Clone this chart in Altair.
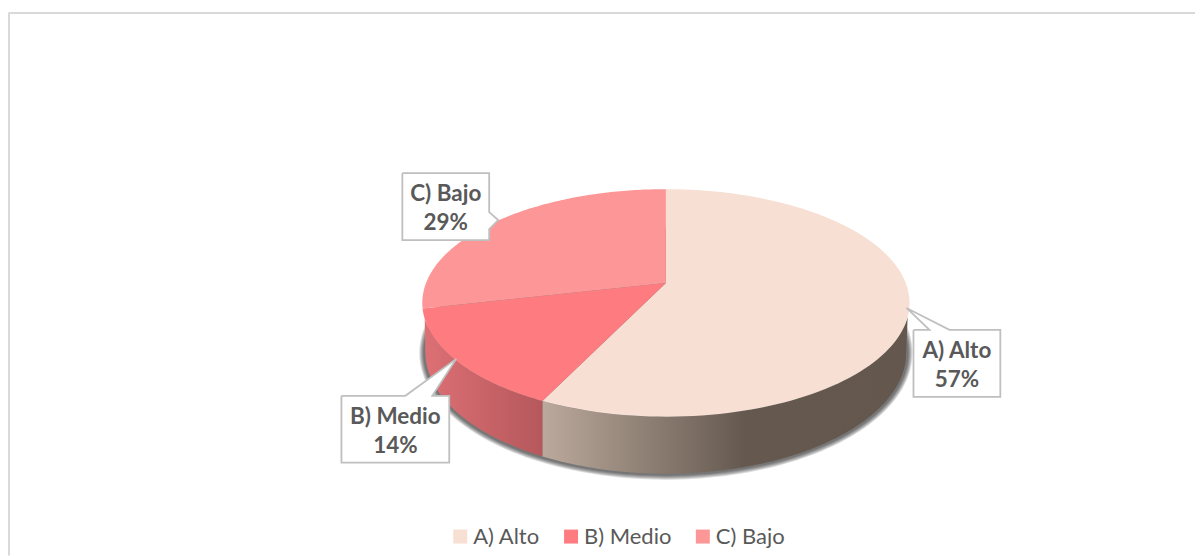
import numpy as np
import pandas as pd
import altair as alt

categories = ["A) Alto", "B) Medio", "C) Bajo"]
shares = [57.14, 14.29, 28.57]
labels = ["57%", "14%", "29%"]
top_colors = ["#f7dfd3", "#fe7b80", "#fd9696"]

W, H = 1188, 548
X = alt.X("x:Q", axis=None, scale=alt.Scale(domain=[8, 1196], nice=False, zero=False))
Y = alt.Y("y:Q", axis=None, scale=alt.Scale(domain=[556, 8], nice=False, zero=False))

# pie geometry (picture space of the tilted disc)
CX, CY, RX, RY = 666.0, 303.0, 244.0, 114.0
BCY, BRX, BRY = 352.0, 241.0, 122.0
K, C = 0.175, 20.0
A = RX * np.sqrt(1 - K * K)


def rim(phi):
    d = 1 + K * np.cos(phi)
    return CX + A * np.sin(phi) / d, CY - (113.95 * np.cos(phi) + C) / d


# top wedges
rows = []
start = 0.0
for cat, s in zip(categories, shares):
    end = start + s
    phis = np.radians(np.linspace(start, end, 120) * 3.6)
    xs, ys = rim(phis)
    pts = [(CX, CY - C)] + list(zip(xs, ys)) + [(CX, CY - C)]
    for i, (px, py) in enumerate(pts):
        rows.append({"cat": cat, "i": i, "x": float(px), "y": float(py)})
    start = end
wedges = pd.DataFrame(rows)

top_layer = alt.Chart(wedges).mark_line(strokeWidth=0).encode(
    x=X, y=Y, order=alt.Order("i:Q"), detail="cat:N",
    fill=alt.Fill("cat:N", scale=alt.Scale(domain=categories, range=top_colors),
                  legend=alt.Legend(orient="none", legendX=441, legendY=518, direction="horizontal",
                                    columns=3, columnPadding=20, title=None, symbolType="square",
                                    symbolSize=196, symbolStrokeWidth=0, labelFont="Lato",
                                    labelFontSize=22, labelColor="#595959", labelOffset=2)),
)


def wall_frame(x0, x1):
    xs = np.linspace(x0, x1, 200)
    top = CY + RY * np.sqrt(np.clip(1 - ((xs - CX) / RX) ** 2, 0, 1))
    u = (xs - CX) / BRX
    bot = np.where(np.abs(u) <= 1, BCY + BRY * np.sqrt(np.clip(1 - u ** 2, 0, 1)), top)
    return pd.DataFrame({"x": xs, "y": top, "y2": np.maximum(top, bot)})


bx, by = rim(np.radians(shares[0] * 3.6))
wall_a = alt.Chart(wall_frame(float(bx), CX + RX)).mark_area(
    color=alt.Gradient(gradient="linear", x1=0, x2=1, y1=0, y2=0,
                       stops=[alt.GradientStop(offset=0, color="#bba99c"),
                              alt.GradientStop(offset=0.55, color="#65594f"),
                              alt.GradientStop(offset=1, color="#63574e")])
).encode(x=X, y=Y, y2="y2:Q")
wall_b = alt.Chart(wall_frame(CX - RX, float(bx))).mark_area(
    color=alt.Gradient(gradient="linear", x1=0, x2=1, y1=0, y2=0,
                       stops=[alt.GradientStop(offset=0, color="#dd7075"),
                              alt.GradientStop(offset=1, color="#b5585c")])
).encode(x=X, y=Y, y2="y2:Q")

# soft shadow below the disc
shadow_rows = []
for k, grow in enumerate([1, 2, 3, 4, 5]):
    t = np.radians(np.linspace(0, 360, 200))
    for i, tt in enumerate(t):
        shadow_rows.append({"k": k, "i": i,
                            "x": CX + (BRX + grow + 1) * np.cos(tt),
                            "y": BCY + 1 + (BRY + grow) * np.sin(tt)})
shadow = alt.Chart(pd.DataFrame(shadow_rows)).mark_line(
    strokeWidth=0, fill="#000000", fillOpacity=0.14
).encode(x=X, y=Y, order=alt.Order("i:Q"), detail="k:N")

# callouts
callouts = {
    "A": [(914, 330), (930, 330), (907, 308), (950, 330), (1001, 330), (1001, 397), (914, 397), (914, 330)],
    "B": [(341, 396), (405, 396), (456, 359), (432, 396), (449, 396), (449, 463), (341, 463), (341, 396)],
    "C": [(402, 173), (489, 173), (489, 212), (498, 220), (489, 229), (489, 240), (402, 240), (402, 173)],
}
cal_rows = []
for key, pts in callouts.items():
    for i, (px, py) in enumerate(pts):
        cal_rows.append({"k": key, "i": i, "x": px, "y": py})
callout_layer = alt.Chart(pd.DataFrame(cal_rows)).mark_line(
    stroke="#bfbfbf", strokeWidth=1.8, fill="#ffffff", strokeJoin="miter"
).encode(x=X, y=Y, order=alt.Order("i:Q"), detail="k:N")

text_df = pd.DataFrame({
    "x": [957.5, 957.5, 395, 395, 445.5, 445.5],
    "y": [351, 380, 417, 446, 194, 223],
    "t": [categories[0], labels[0], categories[1], labels[1], categories[2], labels[2]],
})
text_layer = alt.Chart(text_df).mark_text(
    font="Lato", fontSize=22.5, fontWeight="bold", color="#595959", align="center", baseline="middle"
).encode(x=X, y=Y, text="t:N")

# outer frame (top and left edges visible)
frame_top = alt.Chart(pd.DataFrame({"x": [8], "x2": [1196], "y": [12.5]})).mark_rule(
    color="#d9d9d9", strokeWidth=2).encode(x=X, x2="x2:Q", y=Y)
frame_left = alt.Chart(pd.DataFrame({"x": [8], "y": [12], "y2": [556]})).mark_rule(
    color="#d9d9d9", strokeWidth=2).encode(x=X, y=Y, y2="y2:Q")

chart = alt.layer(
    frame_top, frame_left, shadow, wall_a, wall_b, top_layer, callout_layer, text_layer
).properties(width=W, height=H, padding=0, background="#ffffff").configure_view(stroke=None)

chart.save("out.html", embed_options={"renderer": "svg", "actions": False})
